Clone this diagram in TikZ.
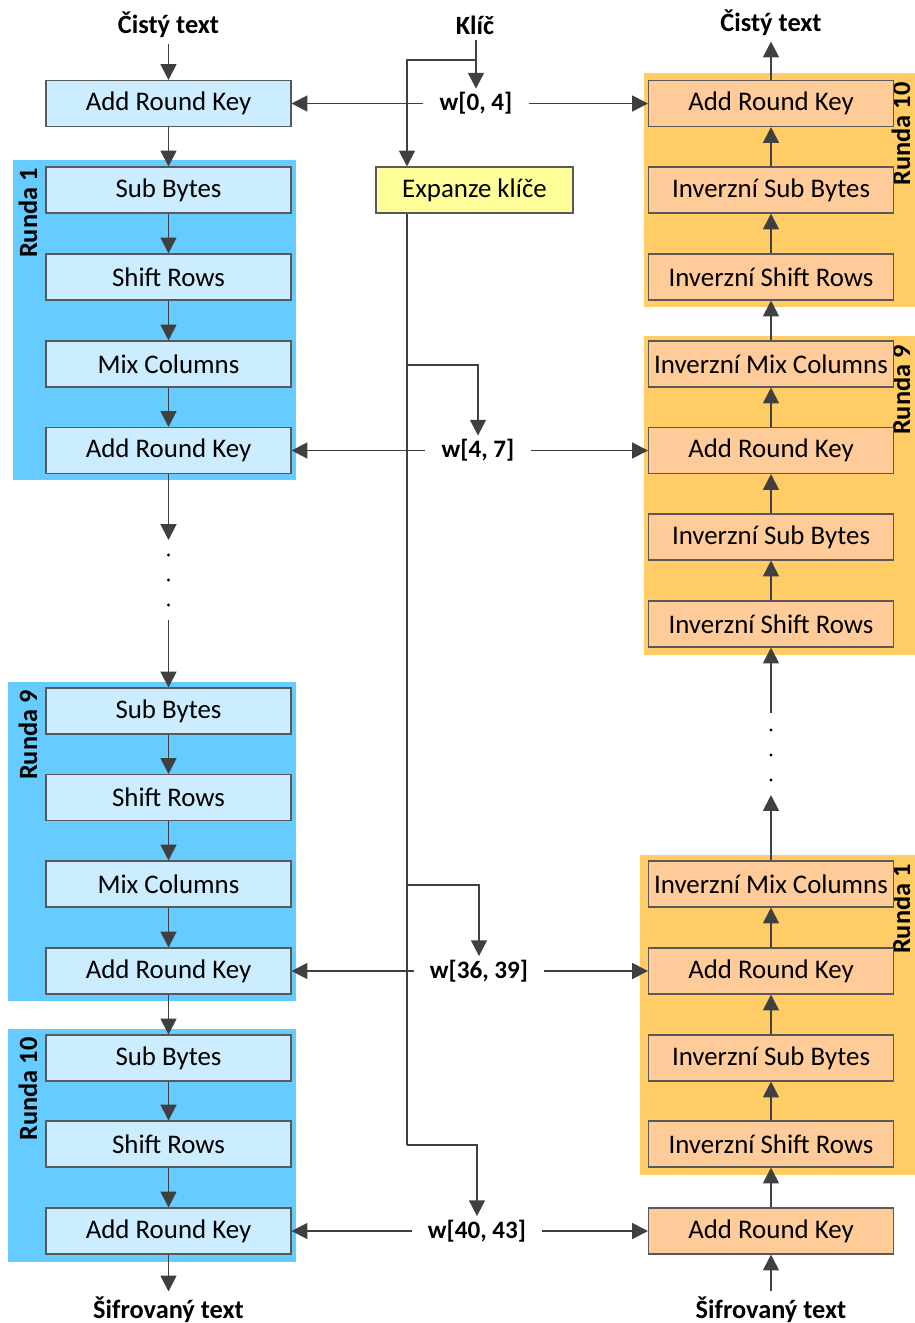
\documentclass[tikz,border=0pt]{standalone}
\usepackage{fontspec}
\setmainfont{Carlito}
\usetikzlibrary{calc}
\usetikzlibrary{arrows.meta}
\tikzset{>={Triangle[length=9pt,width=9pt]}}
\definecolor{encbg}{HTML}{66CCFF}
\definecolor{encfill}{HTML}{CCECFF}
\definecolor{decbg}{HTML}{FFCC66}
\definecolor{decfill}{HTML}{FFCC99}
\definecolor{expfill}{HTML}{FFFF99}
\colorlet{linecol}{black!75}
\tikzset{
  stage/.style={draw=black!65,line width=0.6pt,minimum width=4.9cm,minimum height=0.92cm,
    inner sep=0pt,font=\fontsize{15.3}{17}\selectfont},
  enc/.style={stage,fill=encfill},
  dec/.style={stage,fill=decfill},
  expbox/.style={stage,fill=expfill,minimum width=3.94cm},
  ttl/.style={font=\fontsize{15}{17}\selectfont\bfseries,inner xsep=2pt,inner ysep=3pt},
  wkey/.style={font=\fontsize{14.3}{17}\selectfont\bfseries,inner xsep=0.32cm,inner ysep=2pt},
  rlabel/.style={font=\fontsize{15}{17}\selectfont\bfseries,rotate=90,anchor=east,inner sep=0pt},
  flow/.style={->,draw=linecol,line width=1.1pt},
  bus/.style={draw=linecol,line width=1.1pt},
}

\begin{document}
\begin{tikzpicture}[x=0.02cm,y=-0.02cm]
  \path[use as bounding box,clip] (0,0) rectangle (915,1323);
  \def\xl{168.5} % left column
  \def\xr{771}   % right column
  \def\xk{407}   % key bus

  % round backgrounds
  \fill[encbg] (13,160) rectangle (296,480);
  \fill[encbg] (8,682) rectangle (296,1001);
  \fill[encbg] (8,1029) rectangle (296,1262);
  \fill[decbg] (644,73) rectangle (920,307);
  \fill[decbg] (644,336) rectangle (920,655);
  \fill[decbg] (640,855) rectangle (920,1175);
  \node[rlabel] (lr1) at (28,168) {Runda 1};
  \node[rlabel] (lr9) at (28,690) {Runda 9};
  \node[rlabel] (lr10) at (28,1037) {Runda 10};
  \node[rlabel] (rr10) at (901,82) {Runda 10};
  \node[rlabel] (rr9) at (901,345) {Runda 9};
  \node[rlabel] (rr1) at (901,864) {Runda 1};

  % encryption
  \node[ttl] (pl) at (\xl,25) {Čistý text};
  \node[enc] (ark0) at (\xl,103.5) {Add Round Key};
  \node[enc] (sb1) at (\xl,190) {Sub Bytes};
  \node[enc] (sr1) at (\xl,277) {Shift Rows};
  \node[enc] (mc1) at (\xl,364) {Mix Columns};
  \node[enc] (ark1) at (\xl,450.5) {Add Round Key};
  \node[enc] (sb9) at (\xl,711) {Sub Bytes};
  \node[enc] (sr9) at (\xl,797.5) {Shift Rows};
  \node[enc] (mc9) at (\xl,884) {Mix Columns};
  \node[enc] (ark9) at (\xl,971) {Add Round Key};
  \node[enc] (sb10) at (\xl,1058) {Sub Bytes};
  \node[enc] (sr10) at (\xl,1144) {Shift Rows};
  \node[enc] (ark10) at (\xl,1231) {Add Round Key};
  \node[ttl] (ct) at (\xl,1310) {Šifrovaný text};
  \foreach \a/\b in {pl/ark0,ark0/sb1,sb1/sr1,sr1/mc1,mc1/ark1,
                     sb9/sr9,sr9/mc9,mc9/ark9,ark9/sb10,sb10/sr10,sr10/ark10,ark10/ct}
    \draw[flow] (\a) -- (\b);
  \coordinate (ld1) at (\xl,540);
  \coordinate (ld2) at (\xl,620);
  \draw[flow] (ark1) -- (ld1);
  \draw[flow] (ld2) -- (sb9);
  \foreach \y in {555,580,605}
    \fill (\xl,\y) circle[radius=1.6];

  % decryption
  \node[ttl] (dpl) at (\xr,23) {Čistý text};
  \node[dec] (dark10) at (\xr,103.5) {Add Round Key};
  \node[dec] (disb10) at (\xr,190) {Inverzní Sub Bytes};
  \node[dec] (disr10) at (\xr,277) {Inverzní Shift Rows};
  \node[dec] (dimc9) at (\xr,364) {Inverzní Mix Columns};
  \node[dec] (dark9) at (\xr,450.5) {Add Round Key};
  \node[dec] (disb9) at (\xr,537) {Inverzní Sub Bytes};
  \node[dec] (disr9) at (\xr,624) {Inverzní Shift Rows};
  \node[dec] (dimc1) at (\xr,884) {Inverzní Mix Columns};
  \node[dec] (dark1) at (\xr,971) {Add Round Key};
  \node[dec] (disb1) at (\xr,1058) {Inverzní Sub Bytes};
  \node[dec] (disr1) at (\xr,1144) {Inverzní Shift Rows};
  \node[dec] (dark0) at (\xr,1231) {Add Round Key};
  \node[ttl] (dct) at (\xr,1310) {Šifrovaný text};
  \foreach \a/\b in {dct/dark0,dark0/disr1,disr1/disb1,disb1/dark1,dark1/dimc1,
                     disr9/disb9,disb9/dark9,dark9/dimc9,dimc9/disr10,disr10/disb10,
                     disb10/dark10,dark10/dpl}
    \draw[flow] (\a) -- (\b);
  \coordinate (rd1) at (\xr,795);
  \coordinate (rd2) at (\xr,713);
  \draw[flow] (dimc1) -- (rd1);
  \draw[flow] (rd2) -- (disr9);
  \foreach \y in {730,755,780}
    \fill (\xr,\y) circle[radius=1.6];

  % key schedule
  \node[ttl] (key) at (475,25) {Klíč};
  \node[expbox] (exp) at (474.5,190) {Expanze klíče};
  \node[wkey] (w0) at (476,103.5) {w[0, 4]};
  \node[wkey] (w1) at (478,450.5) {w[4, 7]};
  \node[wkey] (w9) at (479,971) {w[36, 39]};
  \node[wkey] (w10) at (477,1231) {w[40, 43]};
  \coordinate (ksplit) at (476,60);
  \coordinate (kbus) at (\xk,60);
  \coordinate (kb1) at (\xk,365);
  \coordinate (kb9) at (\xk,885);
  \coordinate (kb10) at (\xk,1145);
  \draw[flow] (key.south -| w0) -- (w0);
  \draw[flow] (ksplit) -- (kbus) -- (kbus |- exp.north);
  \draw[bus] (exp.south -| kbus) -- (kb10);
  \draw[flow] (kb1) -| (w1.north);
  \draw[flow] (kb9) -| (w9.north);
  \draw[flow] (kb10) -| (w10.north);
  \foreach \w/\l/\r in {w0/ark0/dark10,w1/ark1/dark9,w9/ark9/dark1,w10/ark10/dark0}{
    \draw[flow] (\w) -- (\l);
    \draw[flow] (\w) -- (\r);
  }
\end{tikzpicture}
\end{document}
